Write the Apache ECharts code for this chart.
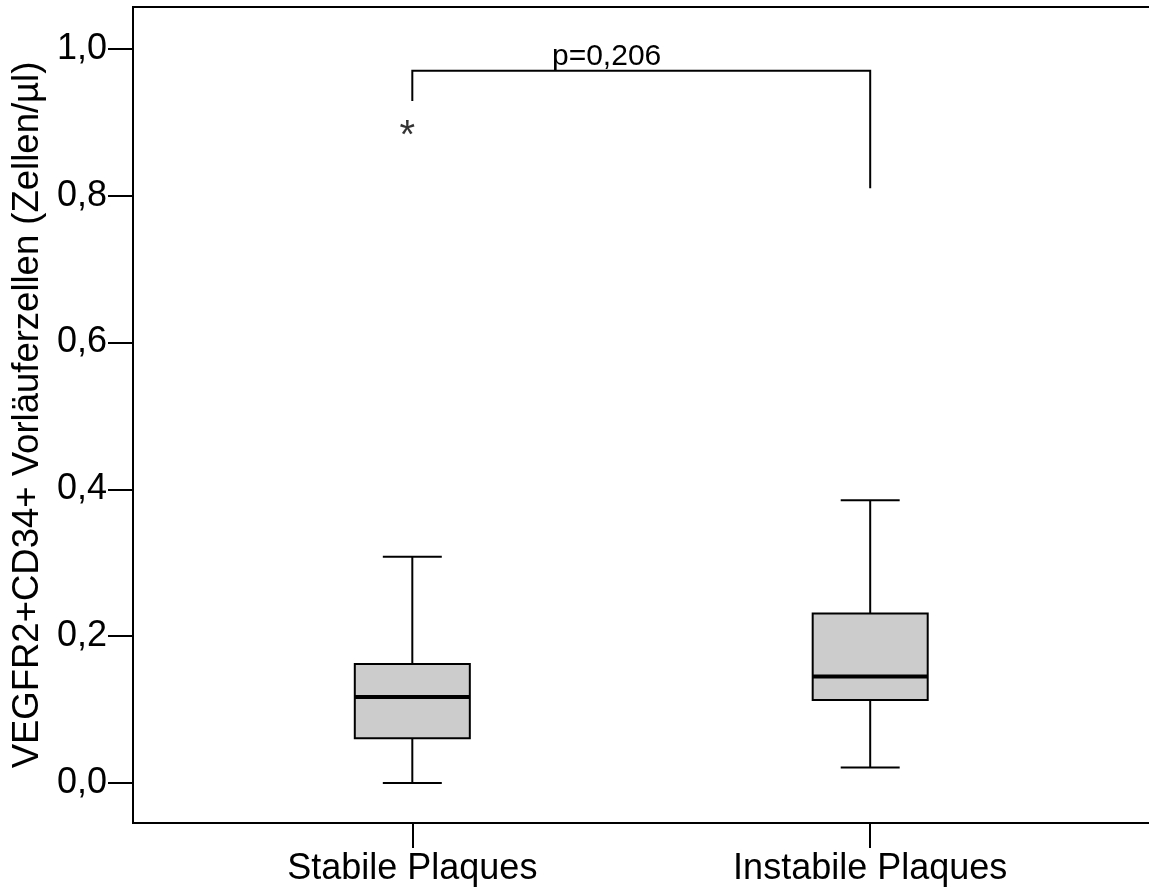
<!DOCTYPE html>
<html><head><meta charset="utf-8">
<script src="https://cdn.jsdelivr.net/npm/echarts@6/dist/echarts.min.js"></script>
<style>html,body{margin:0;padding:0;background:#fff}#c{width:1149px;height:892px}</style>
</head><body><div id="c"></div>
<script>
// ---- data ----
const categories = ['Stabile Plaques', 'Instabile Plaques'];
const categoryPos = [1, 2];
// [lower whisker, Q1, median, Q3, upper whisker]
const stabileStats = [0.000, 0.061, 0.117, 0.162, 0.308];
const instabileStats = [0.021, 0.113, 0.145, 0.231, 0.385];
const outlierPoints = [[1, 0.892]];
const yTickValues = [0, 0.2, 0.4, 0.6, 0.8, 1.0];
const bracketX = [1, 2];
const bracketTop = 0.970;
const bracketEnds = [0.929, 0.810];
const bracketLabel = 'p=0,206';
const bracketLabelX = 1.42;
const yAxisTitle = 'VEGFR2+CD34+ Vorläuferzellen (Zellen/µl)';

const FONT = "'Liberation Sans', Arial, sans-serif";
const boxData = [
  [categoryPos[0]].concat(stabileStats),
  [categoryPos[1]].concat(instabileStats)
];

const chart = echarts.init(document.getElementById('c'), null, {renderer: 'canvas'});
chart.setOption({
  animation: false,
  backgroundColor: '#fff',
  grid: {left: 133, top: 7, width: 1022, height: 816, outerBoundsMode: 'none', containLabel: false,
    show: true, borderColor: '#000', borderWidth: 2, backgroundColor: 'transparent'},
  xAxis: {
    type: 'value', min: 0.39, max: 2.622,
    splitLine: {show: false},
    axisLine: {show: true, onZero: false, lineStyle: {color: '#000', width: 2}},
    axisTick: {show: true, length: 25, lineStyle: {color: '#000', width: 2}, customValues: categoryPos},
    axisLabel: {show: true, customValues: categoryPos, margin: 28, color: '#000', fontFamily: FONT, fontSize: 36,
      formatter: v => categories[categoryPos.indexOf(Math.round(v))] || ''}
  },
  yAxis: {
    type: 'value', min: -0.0545, max: 1.057,
    name: yAxisTitle, nameLocation: 'middle', nameRotate: 90, nameGap: 78,
    nameTextStyle: {color: '#000', fontFamily: FONT, fontSize: 36.5},
    splitLine: {show: false},
    axisLine: {show: true, onZero: false, lineStyle: {color: '#000', width: 2}},
    axisTick: {show: true, length: 25, lineStyle: {color: '#000', width: 2}, customValues: yTickValues},
    axisLabel: {show: true, customValues: yTickValues, margin: 26, color: '#000', fontFamily: FONT, fontSize: 36,
      formatter: v => v.toFixed(1).replace('.', ',')}
  },
  series: [
    {
      type: 'custom',
      data: boxData,
      encode: {x: 0, y: [1, 2, 3, 4, 5]},
      renderItem: function (params, api) {
        const x = api.value(0);
        const lo = api.coord([x, api.value(1)]);
        const q1 = api.coord([x, api.value(2)]);
        const med = api.coord([x, api.value(3)]);
        const q3 = api.coord([x, api.value(4)]);
        const hi = api.coord([x, api.value(5)]);
        const half = api.size([0.1256, 0])[0];
        const cap = api.size([0.0644, 0])[0];
        const ls = {stroke: '#000', lineWidth: 2};
        return {
          type: 'group',
          children: [
            {type: 'line', shape: {x1: lo[0], y1: lo[1], x2: q1[0], y2: q1[1]}, style: ls},
            {type: 'line', shape: {x1: q3[0], y1: q3[1], x2: hi[0], y2: hi[1]}, style: ls},
            {type: 'line', shape: {x1: lo[0] - cap, y1: lo[1], x2: lo[0] + cap, y2: lo[1]}, style: ls},
            {type: 'line', shape: {x1: hi[0] - cap, y1: hi[1], x2: hi[0] + cap, y2: hi[1]}, style: ls},
            {type: 'rect', shape: {x: q3[0] - half, y: q3[1], width: half * 2, height: q1[1] - q3[1]},
              style: {fill: '#cccccc', stroke: '#000', lineWidth: 2}},
            {type: 'line', shape: {x1: med[0] - half, y1: med[1], x2: med[0] + half, y2: med[1]},
              style: {stroke: '#000', lineWidth: 4}}
          ]
        };
      }
    },
    {
      type: 'scatter',
      data: outlierPoints,
      symbolSize: 0,
      label: {show: true, position: 'inside', formatter: '*', color: '#000', fontFamily: FONT, fontSize: 40, offset: [-5, 9]}
    },
    {
      type: 'custom',
      data: [[bracketX[0], bracketTop]],
      renderItem: function (params, api) {
        const a = api.coord([bracketX[0], bracketEnds[0]]);
        const b = api.coord([bracketX[0], bracketTop]);
        const c = api.coord([bracketX[1], bracketTop]);
        const d = api.coord([bracketX[1], bracketEnds[1]]);
        const t = api.coord([bracketLabelX, bracketTop]);
        return {
          type: 'group',
          children: [
            {type: 'polyline', shape: {points: [a, b, c, d]}, style: {stroke: '#000', lineWidth: 2, fill: null}},
            {type: 'text', x: t[0] + 2, y: t[1] + 1, style: {text: bracketLabel, fill: '#000', font: '30px ' + FONT, textAlign: 'center', textVerticalAlign: 'bottom'}}
          ]
        };
      }
    }
  ]
});
</script></body></html>
